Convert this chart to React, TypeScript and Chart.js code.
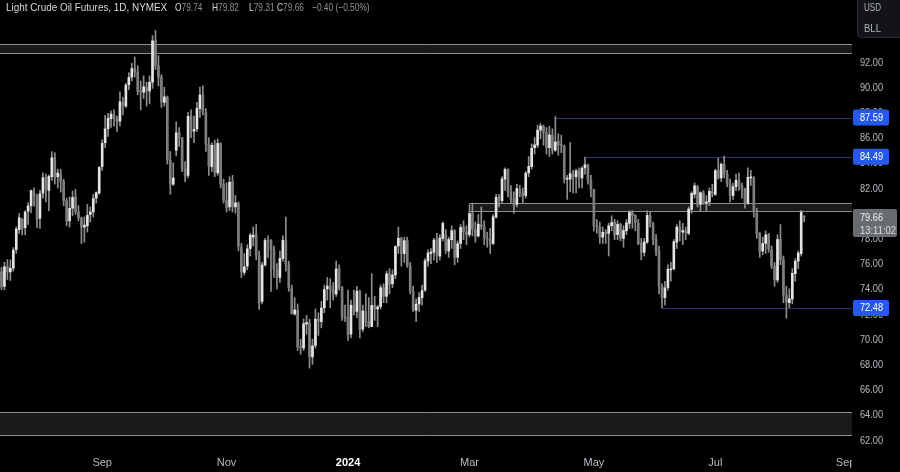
import React, { useEffect, useRef } from "react";
import { Chart, registerables } from "chart.js";

Chart.register(...registerables);

const FONT = '"Liberation Sans", Arial, sans-serif';

// Daily bars, index 0 = 2023-07-14 ... index 272 = 2024-08-13
const opens = [
  76.89, 75.35, 74.2, 75.8, 75.34, 75.64, 77.12, 78.7, 79.5, 78.85, 80.16, 80.6,
  81.6, 81.4, 79.6, 81.6, 82.85, 81.8, 82.9, 84.4, 82.9, 83.1, 82.5, 81.0, 79.4, 80.4, 81.3, 80.1, 79.6, 78.9, 79.0, 79.9, 80.1, 81.2, 81.6,
  83.7, 85.6, 86.7, 87.5, 87.8, 87.5, 87.3, 88.8, 88.5, 90.2, 90.8, 91.5, 91.2, 89.7, 89.6, 90.0, 89.7, 90.4, 93.7, 91.7,
  90.8, 88.8, 89.2, 84.2, 82.3, 85.0, 86.4, 86.0, 83.5, 83.0, 87.7, 86.5, 86.7, 88.3, 89.4, 88.0, 85.5, 83.7, 85.4, 83.2, 85.5, 82.3,
  81.0, 80.5, 82.5, 80.5, 80.8, 77.3, 75.3, 75.8, 77.2, 78.1, 78.3, 76.6, 73.0, 75.9, 77.8, 77.8, 77.1, 75.5, 74.9, 76.4, 77.8,
  75.9, 74.0, 72.0, 72.3, 69.4, 69.3, 71.2, 71.3, 68.6, 69.5, 71.6, 71.4, 72.5, 74.0, 74.2, 73.9, 73.6, 75.6, 74.1, 71.8,
  71.7, 70.4, 72.7, 72.2, 73.8, 70.8, 72.2, 71.4, 71.0, 72.7, 72.4, 72.6, 74.1, 73.4, 75.2, 74.4, 75.1, 77.4, 78.0, 76.8, 77.8,
  75.8, 73.8, 72.3, 72.8, 73.3, 73.9, 76.2, 76.8, 76.9, 77.9, 76.6, 78.0, 78.3, 77.0, 77.9, 78.6, 76.5, 77.6, 78.9, 78.5,
  78.3, 80.0, 78.7, 78.2, 79.1, 78.9, 78.0, 77.9, 77.6, 79.7, 81.3, 81.0, 82.7, 83.5, 81.7, 81.1, 80.7, 81.9, 81.6, 81.4,
  83.2, 83.7, 85.2, 85.4, 86.6, 86.9, 86.4, 85.2, 86.2, 85.0, 85.7, 85.4, 85.3, 82.7, 82.7, 83.1, 82.9, 83.4, 82.8, 83.6, 83.8, 82.6,
  81.9, 79.0, 78.9, 78.1, 78.5, 78.4, 79.0, 79.3, 78.3, 79.1, 78.0, 78.6, 79.2, 80.1, 79.8, 79.2, 77.6, 76.9, 77.7, 79.8, 79.2, 77.9,
  77.0, 74.2, 73.3, 74.1, 75.5, 75.6, 77.7, 78.9, 78.5, 78.6, 78.4, 80.3, 81.5, 82.1, 80.7, 81.6, 80.8, 80.9, 81.7,
  81.5, 83.4, 82.8, 83.9, 83.1, 82.3, 81.4, 82.1, 82.6, 82.2, 81.9, 80.8, 82.8, 82.8, 80.0, 78.4, 77.0, 77.6, 78.3, 77.1, 75.8, 74.7,
  77.9, 76.3, 73.5, 72.9, 73.2, 75.2, 76.2, 76.8, 79.74,
];
const highs = [
  77.3, 75.71, 76.11, 76.32, 76.3, 77.27, 78.92, 79.98, 79.6, 80.2, 80.85, 81.83,
  82.02, 81.5, 81.81, 83.2, 83.1, 83.05, 84.89, 84.8, 83.5, 83.5, 82.7, 81.2, 81.3, 81.75, 81.9, 80.6, 79.7, 79.7, 80.7, 80.5, 81.5, 81.7, 83.7,
  85.83, 87.76, 87.92, 88.1, 88.2, 87.7, 89.64, 89.2, 90.3, 91.15, 91.9, 92.4, 91.7, 90.5, 90.9, 90.4, 90.9, 94.1, 94.5, 92.5,
  91.0, 90.0, 89.3, 84.9, 84.0, 87.24, 86.8, 86.0, 84.1, 88.0, 88.2, 87.7, 88.8, 90.0, 90.1, 88.3, 86.0, 85.6, 85.8, 85.9, 85.6, 82.7,
  82.4, 82.9, 83.0, 81.4, 80.9, 77.6, 76.8, 77.5, 78.4, 78.9, 79.1, 77.0, 76.1, 78.0, 78.2, 77.9, 77.4, 76.0, 77.0, 78.2, 79.7,
  76.2, 74.3, 73.3, 72.8, 70.0, 71.6, 71.9, 71.6, 70.0, 72.4, 72.1, 73.0, 74.3, 74.9, 74.8, 74.5, 76.2, 75.9, 74.2, 72.7,
  73.9, 73.1, 73.9, 74.2, 73.9, 72.7, 73.6, 73.3, 75.2, 73.4, 72.7, 74.3, 74.4, 75.4, 75.6, 75.5, 77.4, 78.9, 78.1, 78.1, 78.1,
  76.1, 74.2, 73.2, 73.7, 74.3, 76.4, 77.1, 77.2, 78.0, 78.4, 78.3, 79.3, 78.7, 78.1, 79.0, 78.7, 77.8, 79.1, 79.4, 79.0,
  80.6, 80.8, 79.3, 79.9, 80.5, 79.4, 78.5, 78.8, 79.9, 81.5, 81.5, 82.9, 83.6, 83.5, 82.2, 81.7, 82.3, 82.2, 82.0, 83.3,
  84.5, 85.5, 86.0, 87.0, 87.12, 87.0, 86.8, 86.9, 86.7, 87.67, 86.3, 86.2, 85.4, 83.0, 85.6, 83.4, 83.5, 83.6, 83.7, 84.46, 83.9, 83.0,
  81.9, 79.5, 79.3, 78.9, 78.7, 79.2, 79.8, 79.5, 79.4, 79.2, 79.0, 79.5, 80.2, 80.2, 79.9, 79.5, 78.0, 78.0, 80.2, 80.1, 79.3, 78.3,
  77.4, 74.4, 74.6, 75.9, 76.1, 77.9, 79.1, 79.4, 79.2, 78.9, 80.5, 81.7, 82.4, 82.2, 81.7, 81.8, 81.4, 82.0, 82.3,
  83.5, 84.38, 84.0, 84.52, 83.4, 82.7, 82.4, 83.1, 83.2, 82.4, 82.0, 83.6, 83.4, 82.9, 80.4, 78.5, 78.1, 78.6, 78.4, 77.4, 76.1, 78.3,
  79.1, 76.6, 74.2, 74.0, 75.6, 76.4, 77.0, 80.22, 79.82,
];
const lows = [
  75.08, 73.93, 73.91, 74.74, 74.66, 75.4, 76.81, 78.39, 78.27, 78.3, 79.1, 80.03,
  80.56, 78.85, 78.8, 81.2, 80.9, 80.2, 82.6, 82.31, 82.0, 81.68, 80.6, 78.99, 78.9, 79.79, 79.9, 79.4, 77.59, 77.7, 78.5, 79.3, 79.7, 80.8, 81.5,
  83.4, 85.2, 86.1, 86.8, 86.9, 86.5, 86.93, 87.8, 88.4, 89.8, 90.5, 90.8, 89.4, 88.2, 89.1, 88.5, 88.7, 89.9, 91.4, 90.1,
  88.4, 88.5, 83.9, 81.5, 82.2, 84.55, 85.3, 83.3, 82.5, 82.8, 86.0, 85.6, 86.5, 87.6, 87.8, 84.9, 83.0, 83.3, 82.9, 83.0, 82.0, 80.8,
  80.1, 80.2, 80.1, 80.0, 77.0, 74.9, 75.1, 75.5, 76.6, 77.4, 76.3, 72.37, 72.8, 75.8, 76.5, 73.8, 74.9, 74.0, 74.5, 76.2, 75.4,
  73.8, 72.0, 71.9, 69.1, 68.8, 69.1, 70.4, 67.71, 68.0, 69.3, 70.3, 70.9, 72.1, 73.1, 72.5, 73.1, 73.4, 73.9, 71.5, 71.4,
  69.9, 70.1, 71.9, 71.7, 70.1, 70.6, 71.0, 70.9, 71.0, 71.5, 71.0, 72.4, 72.9, 72.9, 73.6, 74.1, 74.8, 76.8, 75.8, 76.1, 75.7,
  73.6, 72.2, 71.4, 72.2, 72.7, 73.8, 75.8, 76.0, 76.3, 76.1, 76.3, 77.8, 76.8, 76.5, 77.2, 75.9, 76.1, 77.2, 77.9, 77.5,
  78.1, 78.2, 77.7, 78.1, 78.7, 77.5, 77.3, 76.8, 77.5, 79.6, 80.5, 80.8, 81.8, 81.3, 80.8, 80.0, 80.5, 81.3, 80.8, 81.2,
  82.9, 83.5, 84.7, 85.2, 85.9, 85.4, 84.7, 84.5, 84.7, 84.9, 84.6, 84.8, 82.4, 81.1, 81.7, 81.6, 81.6, 82.0, 82.0, 83.1, 82.3, 81.3,
  78.6, 78.4, 77.6, 77.6, 77.6, 76.6, 78.6, 77.9, 77.9, 77.8, 77.3, 78.3, 78.8, 78.8, 78.6, 77.5, 76.3, 76.6, 77.6, 78.9, 77.5, 76.6,
  73.6, 72.48, 72.7, 73.9, 74.6, 75.5, 77.2, 77.8, 77.5, 77.9, 78.3, 80.0, 81.2, 80.5, 80.2, 80.7, 80.2, 80.6, 81.3,
  81.4, 82.7, 82.5, 82.8, 82.1, 80.9, 81.1, 81.8, 81.8, 81.2, 80.4, 80.7, 82.2, 79.7, 78.0, 76.5, 76.7, 76.8, 76.9, 75.6, 74.2, 74.5,
  75.9, 72.9, 71.67, 72.5, 72.8, 74.6, 75.6, 76.6, 79.31,
];
const closes = [
  75.42, 74.15, 75.75, 75.35, 75.63, 77.07, 78.74, 79.63, 78.78, 80.09, 80.58, 81.8,
  81.37, 79.49, 81.55, 82.82, 81.94, 82.92, 84.4, 82.82, 83.19, 82.51, 80.99, 79.38, 80.39, 81.25, 80.12, 79.64, 78.89, 79.05, 79.83, 80.1, 81.16, 81.63, 83.63,
  85.55, 86.69, 87.54, 87.87, 87.51, 87.29, 88.84, 88.52, 90.16, 90.77, 91.48, 91.2, 89.66, 89.63, 90.03, 89.68, 90.39, 93.68, 91.71, 90.79,
  88.82, 89.23, 84.22, 82.31, 82.79, 86.38, 85.97, 83.49, 82.91, 87.69, 86.66, 86.66, 88.32, 89.37, 88.08, 85.49, 83.74, 85.39, 83.21, 85.54, 82.31, 81.02,
  80.44, 82.46, 80.51, 80.82, 77.37, 75.33, 75.74, 77.17, 78.26, 78.26, 76.66, 72.9, 75.89, 77.83, 77.77, 77.1, 75.54, 74.86, 76.41, 77.86, 75.96,
  74.07, 72.04, 72.32, 69.38, 69.34, 71.23, 71.32, 68.61, 69.47, 71.58, 71.43, 72.47, 73.94, 74.22, 73.89, 73.56, 75.57, 74.11, 71.77, 71.65,
  70.38, 72.7, 72.19, 73.81, 70.77, 72.24, 71.37, 71.02, 72.68, 72.4, 72.56, 74.08, 73.41, 75.19, 74.37, 75.09, 77.36, 78.01, 76.78, 77.82, 75.85,
  73.82, 72.28, 72.78, 73.31, 73.86, 76.22, 76.84, 76.92, 77.87, 76.64, 78.03, 79.19, 77.04, 77.91, 78.61, 76.49, 77.58, 78.87, 78.54, 78.26,
  79.97, 78.74, 78.15, 79.13, 78.93, 78.01, 77.93, 77.56, 79.72, 81.26, 81.04, 82.72, 83.47, 81.68, 81.07, 80.63, 81.95, 81.62, 81.35, 83.17,
  83.71, 85.15, 85.43, 86.59, 86.91, 86.43, 85.23, 86.21, 85.02, 85.66, 85.41, 85.36, 82.69, 82.73, 83.14, 82.85, 83.36, 82.81, 83.57, 83.85, 82.63, 81.93,
  79.0, 78.95, 78.11, 78.48, 78.38, 78.99, 79.26, 78.26, 79.12, 78.02, 78.63, 79.23, 80.06, 79.8, 79.26, 77.57, 76.87, 77.72, 79.83, 79.23, 77.91, 76.99,
  74.22, 73.25, 74.07, 75.55, 75.53, 77.74, 78.9, 78.5, 78.62, 78.45, 80.33, 81.57, 82.17, 80.73, 81.63, 80.83, 80.9, 81.74, 81.54,
  83.38, 82.81, 83.88, 83.16, 82.33, 81.41, 82.1, 82.62, 82.21, 81.91, 80.76, 82.85, 82.82, 80.13, 78.4, 76.96, 77.59, 78.28, 77.16, 75.81, 74.73, 77.91,
  76.31, 73.52, 72.94, 73.2, 75.23, 76.19, 76.84, 80.06, 79.66,
];

// x-axis month ticks (bar index of first session of the month)
const monthTickIndex = [35, 77, 118, 159, 201, 242, 286];
const monthTickLabels = ["Sep", "Nov", "2024", "Mar", "May", "Jul", "Sep"];
const priceTicks = [62, 64, 66, 68, 70, 72, 74, 76, 78, 80, 82, 84, 86, 88, 90, 92];

// horizontal zones (price bands) and level lines
const zoneHighs = [93.43, 80.84, 64.25];
const zoneLows = [92.74, 80.17, 62.4];
const zoneStartIndex = [-10, 159, -10];
const levelPrices = [87.59, 84.49, 72.48];
const levelStartIndex = [188, 198, 224];

const symbolTitle = "Light Crude Oil Futures, 1D, NYMEX";
const ohlcLabels = ["O", "H", "L", "C"];
const ohlcValues = ["79.74", "79.82", "79.31", "79.66"];
const changeText = "\u22120.40 (\u22120.50%)";
const lastPrice = 79.66;
const countdown = "13:11:02";
const currencyLines = ["USD", "BLL"];

const X_MIN = 0.506;
const X_MAX = 288.15;
const Y_MIN = 61.206;
const Y_MAX = 96.921;

const UP_BODY = "#e4e4e4";
const DOWN_BODY = "#7e7e7e";
const WICK = "#8e8e8e";

export default function App() {
  const ref = useRef<HTMLCanvasElement | null>(null);

  useEffect(() => {
    const canvas = ref.current;
    if (!canvas) return;
    const idx = opens.map((_, i) => i);
    const up = idx.map((i) => closes[i] >= opens[i]);

    const overlay = {
      id: "overlay",
      beforeDatasetsDraw(chart: any) {
        const { ctx, chartArea } = chart;
        const xs = chart.scales.x;
        const ys = chart.scales.y;
        ctx.save();
        zoneHighs.forEach((hi, k) => {
          const x0 = Math.max(chartArea.left - 2, Math.round(xs.getPixelForValue(zoneStartIndex[k])) + 0.5);
          const x1 = chartArea.right;
          const y0 = Math.round(ys.getPixelForValue(hi)) + 0.5;
          const y1 = Math.round(ys.getPixelForValue(zoneLows[k])) + 0.5;
          ctx.fillStyle = "#1a1a1c";
          ctx.fillRect(x0, y0, x1 - x0, y1 - y0);
          ctx.strokeStyle = "#8e8e8e";
          ctx.lineWidth = 1;
          ctx.beginPath();
          ctx.moveTo(x1, y0);
          ctx.lineTo(x0, y0);
          ctx.lineTo(x0, y1);
          ctx.lineTo(x1, y1);
          ctx.stroke();
        });
        levelPrices.forEach((p, k) => {
          const x0 = xs.getPixelForValue(levelStartIndex[k]);
          const yy = Math.round(ys.getPixelForValue(p)) + 0.5;
          ctx.strokeStyle = "#2b3278";
          ctx.lineWidth = 1;
          ctx.beginPath();
          ctx.moveTo(x0, yy);
          ctx.lineTo(chartArea.right, yy);
          ctx.stroke();
        });
        ctx.restore();
      },
      afterDraw(chart: any) {
        const { ctx, chartArea } = chart;
        const ys = chart.scales.y;
        const right = chartArea.right;
        ctx.save();
        // clip x labels under the price scale
        ctx.fillStyle = "#000";
        ctx.fillRect(right, chartArea.bottom, 900 - right, 472 - chartArea.bottom);
        ctx.font = `11px ${FONT}`;
        ctx.textBaseline = "middle";
        ctx.textAlign = "left";
        // price scale labels
        ctx.fillStyle = "#b8bbc2";
        priceTicks.forEach((p) => {
          ctx.fillText(p.toFixed(2), right + 8, ys.getPixelForValue(p) + 0.5, 23);
        });
        levelPrices.forEach((p) => {
          const yy = ys.getPixelForValue(p);
          ctx.fillStyle = "#2658ea";
          ctx.beginPath();
          ctx.roundRect(right + 1, yy - 8, 36, 16, 2);
          ctx.fill();
          ctx.fillStyle = "#ffffff";
          ctx.fillText(p.toFixed(2), right + 8, yy + 0.5, 23);
        });
        const ly = ys.getPixelForValue(lastPrice);
        ctx.fillStyle = "#686b70";
        ctx.beginPath();
        ctx.roundRect(right + 1, ly - 8.5, 44, 28, 2);
        ctx.fill();
        ctx.fillStyle = "#f0f0f0";
        ctx.fillText(lastPrice.toFixed(2), right + 8, ly + 0.5, 23);
        ctx.fillStyle = "#dedede";
        ctx.fillText(countdown, right + 8, ly + 13, 36);
        // currency / unit box
        ctx.fillStyle = "#121418";
        ctx.strokeStyle = "#2a2e39";
        ctx.lineWidth = 1;
        ctx.beginPath();
        ctx.roundRect(right + 5.5, -4.5, 50, 42, 4);
        ctx.fill();
        ctx.stroke();
        ctx.fillStyle = "#b2b5be";
        ctx.font = `10px ${FONT}`;
        currencyLines.forEach((t, k) => ctx.fillText(t, right + 12, 8 + k * 21, 17));
        ctx.restore();
      },
    };

    const chart = new Chart(canvas, {
      type: "bar",
      data: {
        datasets: [
          {
            label: "body",
            data: idx.map((i) => ({ x: i, y: [Math.min(opens[i], closes[i]), Math.max(opens[i], closes[i])] })) as any,
            backgroundColor: idx.map((i) => (up[i] ? UP_BODY : DOWN_BODY)),
            barThickness: 2,
            minBarLength: 1,
            grouped: false,
            order: 0,
          },
          {
            label: "wick",
            data: idx.map((i) => ({ x: i, y: [lows[i], highs[i]] })) as any,
            backgroundColor: WICK,
            barThickness: 1,
            grouped: false,
            order: 1,
          },
        ],
      },
      options: {
        responsive: false,
        animation: false,
        events: [],
        layout: { padding: 0 },
        plugins: { legend: { display: false }, tooltip: { enabled: false }, title: { display: false } },
        scales: {
          x: {
            type: "linear",
            min: X_MIN,
            max: X_MAX,
            offset: false,
            grid: { display: false, drawTicks: false, offset: false },
            border: { display: false },
            afterBuildTicks: (scale: any) => {
              scale.ticks = monthTickIndex.map((v) => ({ value: v }));
            },
            afterFit: (scale: any) => {
              scale.height = 22;
              scale.paddingLeft = 0;
              scale.paddingRight = 0;
            },
            ticks: {
              autoSkip: false,
              maxRotation: 0,
              padding: 6,
              callback: (v: any) => {
                const k = monthTickIndex.indexOf(Number(v));
                return k >= 0 ? monthTickLabels[k] : "";
              },
              color: (c: any) => (c.tick && c.tick.value === 118 ? "#ffffff" : "#b8bbc2"),
              font: (c: any) =>
                c.tick && c.tick.value === 118
                  ? { family: FONT, size: 11, weight: "bold" }
                  : { family: FONT, size: 11 },
            },
          },
          y: {
            type: "linear",
            position: "right",
            min: Y_MIN,
            max: Y_MAX,
            grid: { display: false, drawTicks: false },
            border: { display: false },
            afterBuildTicks: (scale: any) => {
              scale.ticks = priceTicks.map((v) => ({ value: v }));
            },
            afterFit: (scale: any) => {
              scale.width = 48;
              scale.paddingTop = 0;
              scale.paddingBottom = 0;
            },
            ticks: {
              display: false,
              padding: 8,
              font: { family: FONT, size: 11 },
            },
          },
        },
      },
      plugins: [overlay],
    });
    return () => chart.destroy();
  }, []);

  const ohlcLeft = [175, 212, 249, 277];
  const headerSpan = (left: number, sx: number): React.CSSProperties => ({
    position: "absolute",
    left,
    top: 0,
    display: "inline-block",
    transform: `scaleX(${sx})`,
    transformOrigin: "0 0",
  });
  return (
    <div style={{ position: "fixed", left: 0, top: 0, width: 900, height: 472, background: "#000", overflow: "hidden" }}>
      <canvas ref={ref} width={900} height={472} style={{ position: "absolute", left: 0, top: 0, width: 900, height: 472 }} />
      <div
        style={{
          position: "absolute",
          left: 0,
          top: 0,
          width: 850,
          height: 14,
          font: `11px ${FONT}`,
          lineHeight: "14px",
          whiteSpace: "nowrap",
          pointerEvents: "none",
        }}
      >
        <span style={{ ...headerSpan(6, 0.9), color: "#d6d8de" }}>{symbolTitle}</span>
        {ohlcLabels.map((l, k) => (
          <span key={l} style={{ ...headerSpan(ohlcLeft[k], 0.76), color: "#d6d8de" }}>
            {l}
            <span style={{ color: "#8f9297" }}>{ohlcValues[k]}</span>
          </span>
        ))}
        <span style={{ ...headerSpan(312, 0.76), color: "#8f9297" }}>{changeText}</span>
      </div>
    </div>
  );
}
